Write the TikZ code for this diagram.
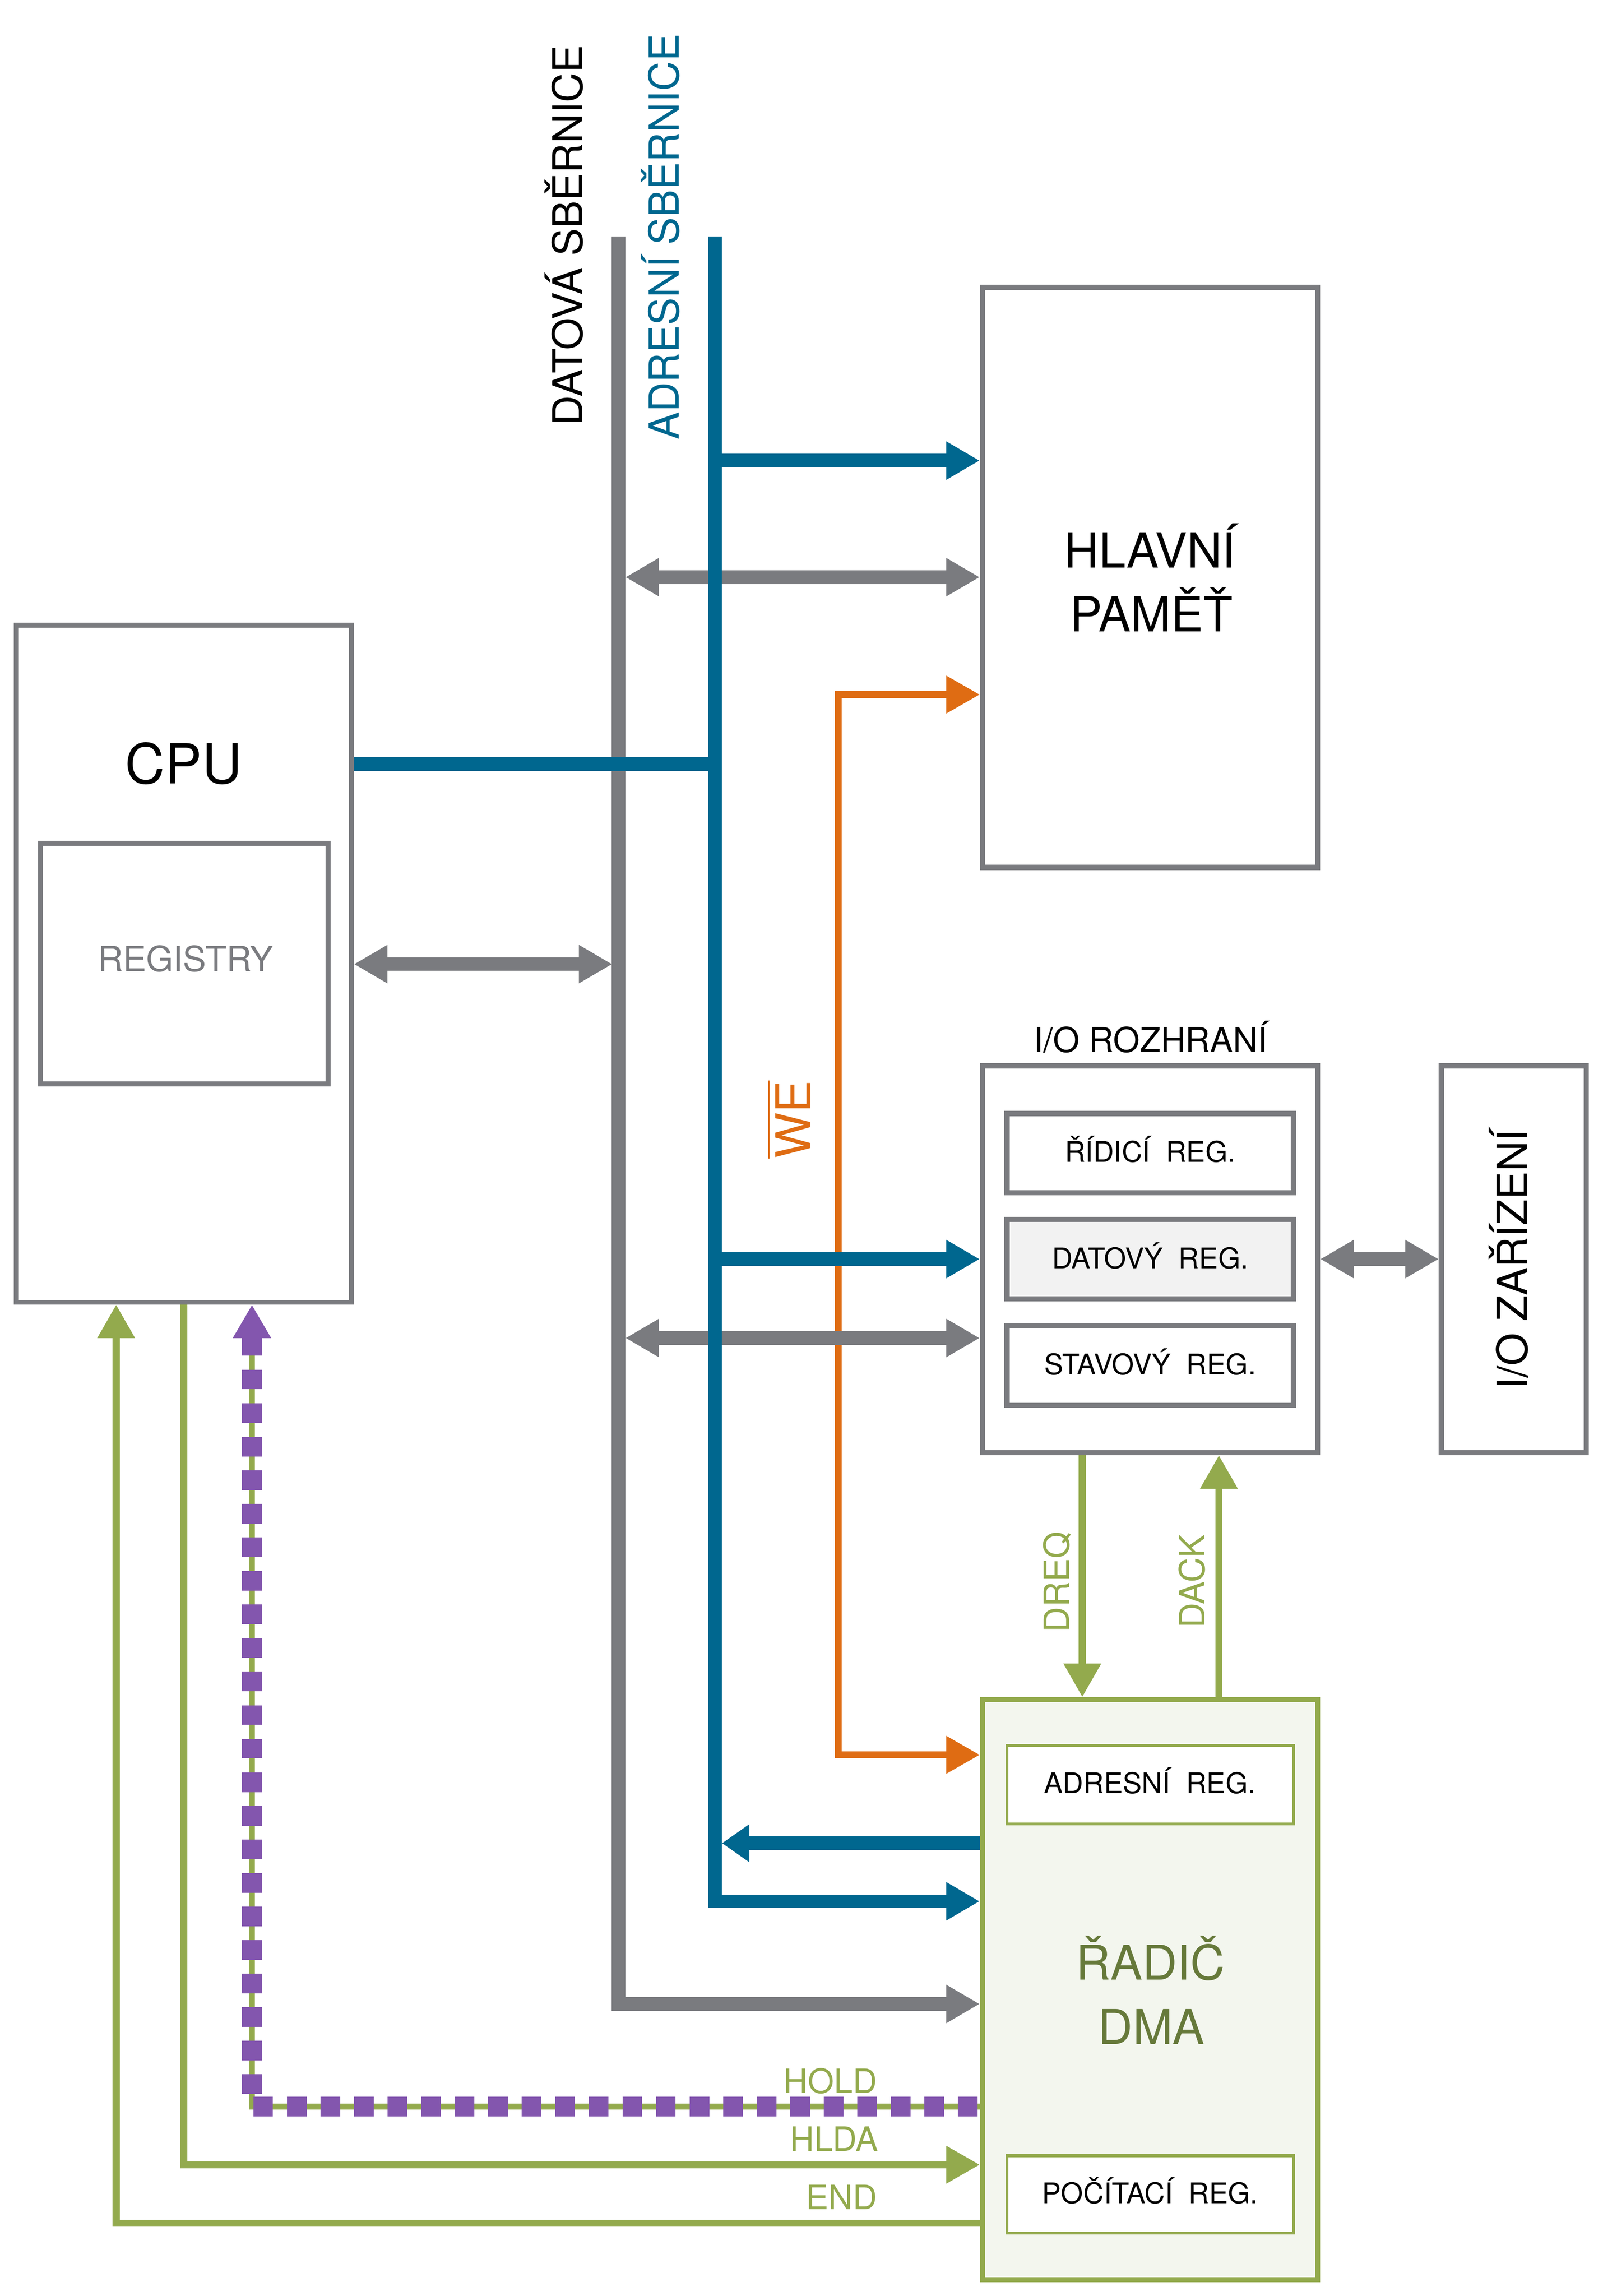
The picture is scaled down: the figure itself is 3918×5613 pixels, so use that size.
\documentclass[tikz,border=0pt]{standalone}
\usepackage{fontspec}
\setmainfont{TeX Gyre Heros}
\usetikzlibrary{arrows.meta}
\definecolor{cgrey}{HTML}{7A7B7F}
\definecolor{cblue}{HTML}{00678F}
\definecolor{corange}{HTML}{DF6C13}
\definecolor{cgreen}{HTML}{93AA4D}
\definecolor{cpurple}{HTML}{8356AE}
\definecolor{colive}{HTML}{66793A}
\definecolor{cdmafill}{HTML}{F3F6EE}
\definecolor{cdatfill}{HTML}{F2F2F2}
\newcommand\myfs[1]{\fontsize{#1pt}{#1pt}\selectfont}
\newcommand\myoverline[1]{{\setbox0\hbox{#1}\rlap{\rule[\dimexpr\ht0+4pt\relax]{\wd0}{1.2pt}}\box0}}
\tikzset{
  bt/.tip={Triangle[length=23.3pt,width=25pt]},
  gbox/.style={draw=cgrey,line width=3.7pt,fill=white,inner sep=0pt},
  dbox/.style={draw=cgreen,line width=3.7pt,fill=cdmafill,inner sep=0pt},
  dreg/.style={draw=cgreen,line width=2pt,fill=white,inner sep=0pt,minimum width=7cm},
  ireg/.style={gbox,minimum width=7cm,minimum height=1.94cm},
  gline/.style={draw=cgrey,line width=9.39pt},
  bline/.style={draw=cblue,line width=9.39pt},
  oline/.style={draw=corange,line width=4.84pt},
  grline/.style={draw=cgreen,line width=4.84pt},
  pline/.style={draw=cpurple,line width=13.9pt,dash pattern=on 13.66pt off 9.67pt},
  txt/.style={inner sep=0pt,anchor=base},
  regtxt/.style={txt,font=\myfs{19.8}},
  sigtxt/.style={inner sep=0pt,anchor=base east,text=cgreen,font=\myfs{23.4}}
}
\begin{document}
\begin{tikzpicture}[x=0.01cm,y=-0.01cm]
\useasboundingbox (0,0) rectangle (3918,5613);
\fill[white] (0,0) rectangle (3918,5613);

% ---------- boxes ----------
\node[gbox,minimum width=8.19cm,minimum height=14.17cm] (mem) at (2811.5,1411.5) {};
\node[gbox,line width=3.41pt,minimum width=8.19cm,minimum height=16.54cm] (cpu) at (449.5,2356) {};
\node[gbox,line width=3.41pt,minimum width=7.03cm,minimum height=5.88cm] (regs) at (450.5,2356) {};
\node[gbox,minimum width=8.19cm,minimum height=9.45cm] (io) at (2811.5,3078.5) {};
\node[ireg] (rid) at (2812,2819) {};
\node[ireg,fill=cdatfill] (dat) at (2812,3078) {};
\node[ireg] (stav) at (2812,3338.5) {};
\node[gbox,minimum width=3.54cm,minimum height=9.45cm] (ioz) at (3701,3078.5) {};
\node[dbox,minimum width=8.19cm,minimum height=14.17cm] (dma) at (2811.5,4864) {};
\node[dreg,minimum height=1.92cm] (adr) at (2812,4363) {};
\node[dreg,minimum height=1.89cm] (poc) at (2812,5364.5) {};

% ---------- coordinates ----------
\coordinate (gTop) at (1512,578);
\coordinate (bTop) at (1748,578);
\coordinate (gCorner) at (1512,4899);
\coordinate (bCorner) at (1748,4648);
\coordinate (oA) at (2049,1698);
\coordinate (oB) at (2049,4290);
\coordinate (g1) at (1529,1411);
\coordinate (g2) at (1497,2357);
\coordinate (g3) at (1529,3271);
\coordinate (b1) at (1748,1126);
\coordinate (b2) at (1748,1868);
\coordinate (b3) at (1748,3078);
\coordinate (b4) at (1765,4506);
\coordinate (dq) at (2646,3800);
\coordinate (dk) at (2980,3800);
\coordinate (eC) at (284,5435);
\coordinate (hC) at (449,5292);
\coordinate (oC) at (616,5150);

% ---------- write enable ----------
\draw[oline,bt-bt] (oA -| mem.west) -- (oA) -- (oB) -- (oB -| dma.west);

% ---------- data bus ----------
\draw[gline,-bt] (gTop) -- (gCorner) -- (gCorner -| dma.west);
\draw[gline,bt-bt] (g1) -- (g1 -| mem.west);
\draw[gline,bt-bt] (cpu.east |- g2) -- (g2);
\draw[gline,bt-bt] (g3) -- (g3 -| io.west);
\draw[gline,bt-bt] (io.east |- dat) -- (ioz.west |- dat);

% ---------- address bus ----------
\draw[bline,-bt] (bTop) -- (bCorner) -- (bCorner -| dma.west);
\draw[bline,-bt] (b1) -- (b1 -| mem.west);
\draw[bline] (cpu.east |- b2) -- (b2);
\draw[bline,-bt] (b3) -- (b3 -| io.west);
\draw[bline,-{Triangle[length=19pt,width=25pt]}] (b4 -| dma.west) -- (b4);

% ---------- control signals ----------
\draw[grline,-bt] (dq |- io.south) -- (dq |- dma.north);
\draw[grline,-bt] (dk |- dma.north) -- (dk |- io.south);
\draw[grline,-bt] (eC -| dma.west) -- (eC) -- (eC |- cpu.south);
\draw[grline,-bt] (hC |- cpu.south) -- (hC) -- (hC -| dma.west);
\draw[draw=cgreen,line width=4.3pt,shorten >=18pt] (oC -| dma.west) -- (oC) -- (oC |- cpu.south);
\draw[pline,bt-] (oC |- cpu.south) -- (oC) -- (oC -| dma.west);

% ---------- texts ----------
\node[txt,rotate=90,font=\myfs{28.7}] (lD) at (1424,575) {DATOVÁ SBĚRNICE};
\node[txt,rotate=90,font=\myfs{28.7},text=cblue] (lA) at (1660,579) {ADRESNÍ SBĚRNICE};
\node[txt,font=\myfs{38.4}] (tCPU) at (449,1916) {CPU};
\node[txt,font=\myfs{24.2},text=cgrey] (tREG) at (454,2375) {REGISTRY};
\node[txt,font=\myfs{33.6}] (tH1) at (2811,1388) {HLAVNÍ};
\node[txt,font=\myfs{33.6}] (tH2) at (2815,1544) {PAMĚŤ};
\node[txt,font=\myfs{23.8}] (tIO) at (2813,2572) {I/O ROZHRANÍ};
\node[regtxt] (tRID) at (2812,2841) {ŘÍDICÍ\hspace{0.55em}REG.};
\node[regtxt] (tDAT) at (2812,3101) {DATOVÝ\hspace{0.55em}REG.};
\node[regtxt] (tSTA) at (2812,3360) {STAVOVÝ\hspace{0.55em}REG.};
\node[txt,rotate=90,font=\myfs{29.3}] (tIOZ) at (3734,3079) {I/O ZAŘÍZENÍ};
\node[txt,rotate=90,font=\myfs{33.6},text=corange] (tWE) at (1982,2737) {\myoverline{WE}};
\node[txt,rotate=90,font=\myfs{24.2},text=cgreen] (tDREQ) at (2614,3867) {DREQ};
\node[txt,rotate=90,font=\myfs{24.2},text=cgreen] (tDACK) at (2945,3866) {DACK};
\node[regtxt] (tADR) at (2811,4384) {ADRESNÍ\hspace{0.55em}REG.};
\node[regtxt] (tPOC) at (2812,5387) {POČÍTACÍ\hspace{0.55em}REG.};
\node[txt,font=\myfs{33.3},text=colive] (tR1) at (2813,4840) {ŘADIČ};
\node[txt,font=\myfs{33.3},text=colive] (tR2) at (2815,4997) {DMA};
\node[sigtxt] (tHOLD) at (2145,5117) {HOLD};
\node[sigtxt] (tHLDA) at (2148,5259) {HLDA};
\node[sigtxt] (tEND) at (2145,5401) {END};
\end{tikzpicture}
\end{document}
